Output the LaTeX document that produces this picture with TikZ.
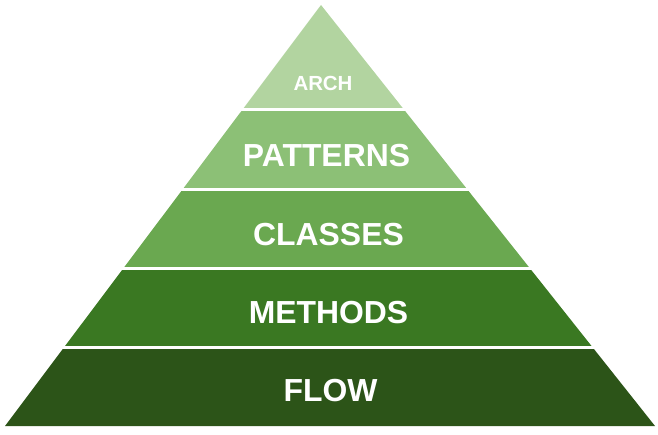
\documentclass[tikz,border=0pt]{standalone}
\usepackage{fontspec}
\setmainfont{Liberation Sans}
\usetikzlibrary{calc}

\definecolor{archgreen}{RGB}{178,212,160}
\definecolor{patgreen}{RGB}{140,192,118}
\definecolor{clsgreen}{RGB}{106,168,80}
\definecolor{methgreen}{RGB}{58,120,34}
\definecolor{flowgreen}{RGB}{44,84,24}

\begin{document}
\begin{tikzpicture}[
  x=1bp,y=-1bp,
  gap/.style={draw=white, line width=3bp, shorten <=-4bp, shorten >=-4bp},
  label/.style={text=white, font=\bfseries\fontsize{32}{32}\selectfont, inner sep=0pt},
  small/.style={text=white, font=\bfseries\fontsize{20.5}{20.5}\selectfont, inner sep=0pt}
]
\useasboundingbox (0,0) rectangle (658,435);
% outline of the pyramid
\coordinate (apex) at (321,5);
\coordinate (bl) at (5,426);
\coordinate (br) at (655,426);
% layer boundaries
\coordinate (l1) at ($(apex)!0.2494!(bl)$);
\coordinate (r1) at ($(apex)!0.2494!(br)$);
\coordinate (l2) at ($(apex)!0.4371!(bl)$);
\coordinate (r2) at ($(apex)!0.4371!(br)$);
\coordinate (l3) at ($(apex)!0.6259!(bl)$);
\coordinate (r3) at ($(apex)!0.6259!(br)$);
\coordinate (l4) at ($(apex)!0.8147!(bl)$);
\coordinate (r4) at ($(apex)!0.8147!(br)$);
\fill[archgreen] (apex) -- (r1) -- (l1) -- cycle;
\fill[patgreen] (l1) -- (r1) -- (r2) -- (l2) -- cycle;
\fill[clsgreen] (l2) -- (r2) -- (r3) -- (l3) -- cycle;
\fill[methgreen] (l3) -- (r3) -- (r4) -- (l4) -- cycle;
\fill[flowgreen] (l4) -- (r4) -- (br) -- (bl) -- cycle;
\draw[gap] (l1) -- (r1);
\draw[gap] (l2) -- (r2);
\draw[gap] (l3) -- (r3);
\draw[gap] (l4) -- (r4);
% texts
\node[small] (arch) at (323,83) {ARCH};
\node[label] (patterns) at (326.5,156) {PATTERNS};
\node[label] (classes) at (328.5,235) {CLASSES};
\node[label] (methods) at (328.5,312.5) {METHODS};
\node[label] (flow) at (330.5,391) {FLOW};
\end{tikzpicture}
\end{document}
